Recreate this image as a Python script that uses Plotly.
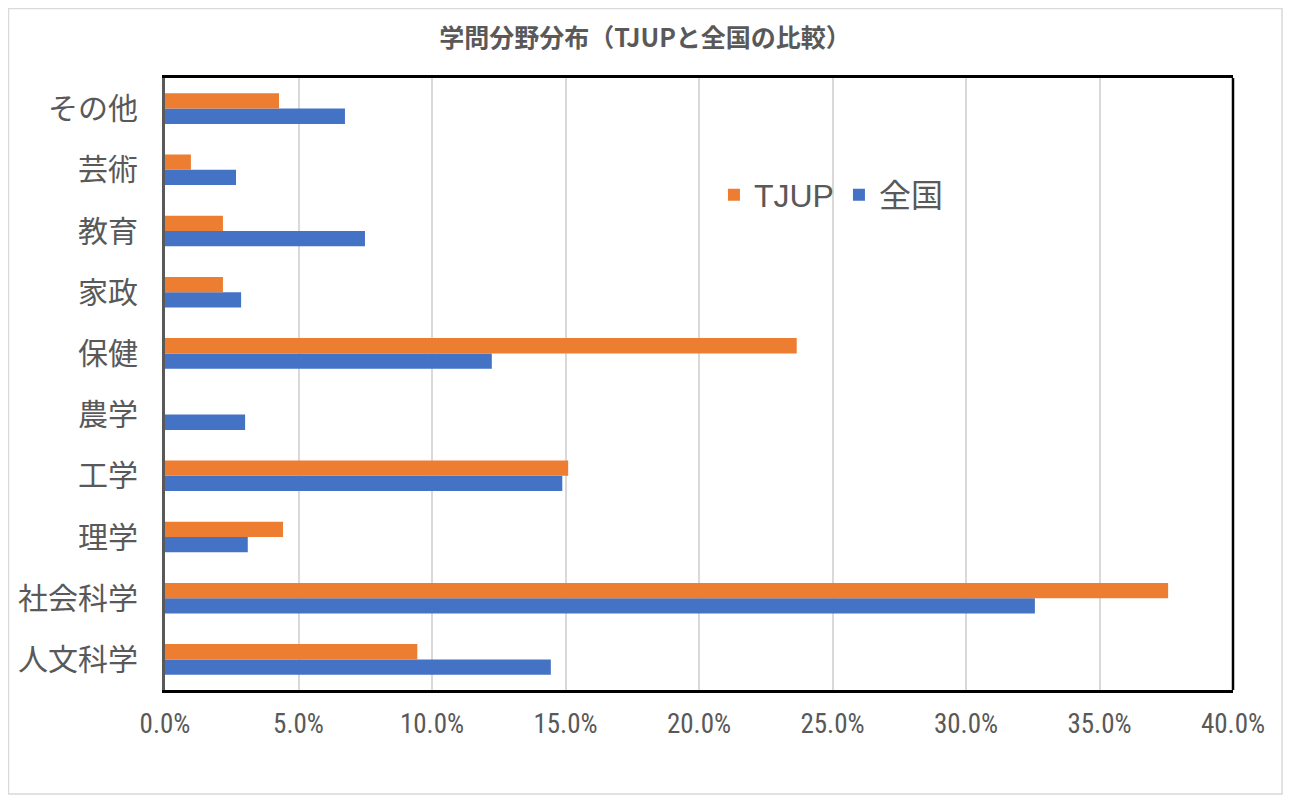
import plotly.graph_objects as go

categories = ["人文科学", "社会科学", "理学", "工学", "農学", "保健", "家政", "教育", "芸術", "その他"]
tjup = [9.45, 37.57, 4.42, 15.1, 0.0, 23.66, 2.17, 2.17, 0.97, 4.27]
zenkoku = [14.45, 32.58, 3.1, 14.88, 3.0, 12.24, 2.85, 7.49, 2.66, 6.74]
x_ticks = [0, 5, 10, 15, 20, 25, 30, 35, 40]
x_tick_labels = ["0.0%", "5.0%", "10.0%", "15.0%", "20.0%", "25.0%", "30.0%", "35.0%", "40.0%"]

ORANGE = "#ED7D31"
BLUE = "#4472C4"
GRAY = "#595959"
CJK = "Noto Sans CJK JP, Noto Sans, sans-serif"

W, H = 1275, 787
L, R, T, B = 157, 50, 70, 105
PW = W - L - R
PH = H - T - B

fig = go.Figure()
fig.add_trace(go.Bar(y=categories, x=zenkoku, orientation="h", name="全国",
                     marker=dict(color=BLUE, line=dict(width=0))))
fig.add_trace(go.Bar(y=categories, x=tjup, orientation="h", name="TJUP",
                     marker=dict(color=ORANGE, line=dict(width=0))))

fig.update_layout(
    width=W, height=H,
    margin=dict(l=L, r=R, t=T, b=B, autoexpand=False),
    paper_bgcolor="white", plot_bgcolor="white",
    barmode="group", bargap=0.5, bargroupgap=0,
    title=dict(text="<b>学問分野分布（TJUPと全国の比較）</b>", x=(645 - 8) / W, xref="container",
               y=1 - 30 / H, yref="container", yanchor="middle", xanchor="center",
               font=dict(family=CJK, size=25, color=GRAY)),
    legend=dict(orientation="h", traceorder="reversed", x=0.514, y=0.809,
                xanchor="left", yanchor="middle", bgcolor="rgba(0,0,0,0)",
                font=dict(family="Liberation Sans, Noto Sans CJK JP, sans-serif", size=32, color=GRAY),
                itemwidth=30),
    showlegend=True,
)

fig.update_xaxes(
    range=[0, 40], tickvals=x_ticks, ticktext=x_tick_labels,
    showgrid=True, gridcolor="#D9D9D9", gridwidth=1.5,
    showline=True, linecolor="black", linewidth=2.5, mirror=True,
    ticks="outside", ticklen=8, tickcolor="rgba(0,0,0,0)",
    tickfont=dict(family="Liberation Sans Narrow, Arial Narrow, Roboto Condensed, sans-serif",
                  size=27, color=GRAY),
    zeroline=False, fixedrange=True, automargin=False,
)
fig.update_yaxes(
    showline=True, linecolor=GRAY, linewidth=3, mirror=False,
    showgrid=False, ticks="outside", ticklen=18, tickcolor="rgba(0,0,0,0)",
    tickfont=dict(family=CJK, size=30, color=GRAY),
    fixedrange=True, automargin=False,
)

# right frame line and outer chart border
fig.add_shape(type="line", xref="paper", yref="paper", x0=1, x1=1, y0=0, y1=1,
              line=dict(color="black", width=2.5))
fig.add_shape(type="rect", xref="paper", yref="paper",
              x0=(0.5 - L) / PW, x1=(W - 1 - L) / PW,
              y0=-(H - T - PH - 1) / PH, y1=(PH + T - 0.5) / PH,
              line=dict(color="#D9D9D9", width=1.5), layer="below")

fig.write_html("out.html")
